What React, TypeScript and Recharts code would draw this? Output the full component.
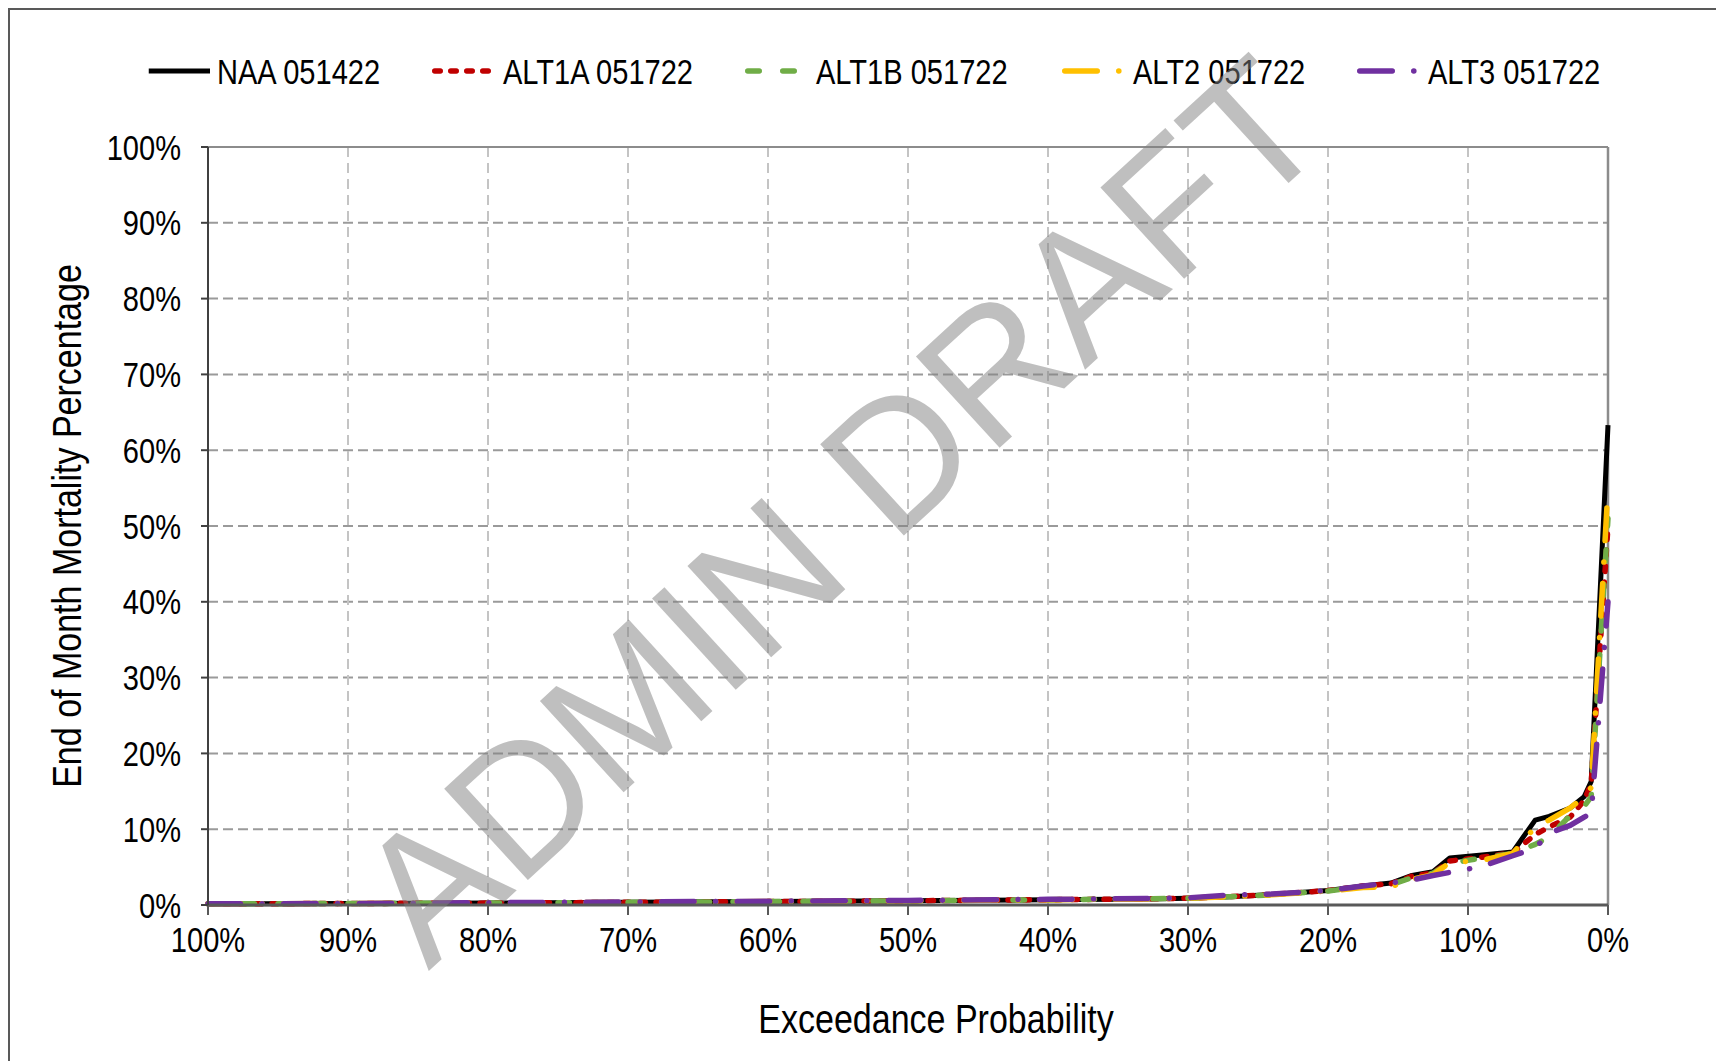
import { LineChart, Line, XAxis, YAxis, CartesianGrid, ReferenceLine } from 'recharts';

// Exceedance probability (%) for each plotted point, left (100%) to right (0%).
const EXCEEDANCE = [100, 90, 80, 70, 60, 50, 40, 33, 30, 27, 24, 20, 17.5, 15.5, 14, 12.5, 11.3, 9, 6.8, 5.2, 4.2, 2.7, 1.7, 1.2, 0];

// End of month mortality (%) per scenario.
const NAA_051422 = [0.15, 0.2, 0.25, 0.35, 0.45, 0.55, 0.7, 0.8, 0.9, 1.1, 1.4, 1.9, 2.5, 2.9, 3.9, 4.4, 6.2, 6.6, 7.0, 11.2, 11.7, 12.8, 14.3, 16.3, 63.3];
const ALT1A_051722 = [0.15, 0.2, 0.25, 0.35, 0.45, 0.55, 0.7, 0.8, 0.9, 1.1, 1.4, 1.9, 2.5, 2.8, 3.8, 4.2, 5.8, 6.3, 6.9, 9.3, 10.3, 11.6, 13.8, 16.0, 50.0];
const ALT1B_051722 = [0.15, 0.2, 0.25, 0.35, 0.45, 0.55, 0.7, 0.8, 0.9, 1.1, 1.35, 1.85, 2.4, 2.7, 3.6, 4.2, 5.5, 6.2, 6.8, 8.0, 9.0, 11.8, 13.0, 14.3, 51.0];
const ALT2_051722 = [0.15, 0.2, 0.25, 0.35, 0.45, 0.55, 0.7, 0.8, 0.9, 1.1, 1.35, 1.85, 2.3, 2.4, 3.4, 4.0, 5.6, 5.9, 6.8, 10.3, 11.2, 12.8, 14.3, 15.5, 55.0];
const ALT3_051722 = [0.15, 0.2, 0.3, 0.4, 0.5, 0.6, 0.75, 0.85, 0.95, 1.3, 1.45, 1.9, 2.5, 2.9, 3.3, 3.9, 4.3, 5.1, 6.5, 7.5, 9.5, 10.5, 11.6, 12.1, 40.0];

const X_TICKS = [100, 90, 80, 70, 60, 50, 40, 30, 20, 10, 0];
const Y_TICKS = [0, 10, 20, 30, 40, 50, 60, 70, 80, 90, 100];

const X_TITLE = 'Exceedance Probability';
const Y_TITLE = 'End of Month Mortality Percentage';
const WATERMARK = 'ADMIN DRAFT';

const FONT = "'Liberation Sans', Arial, sans-serif";
/** Source text is a narrow face; squeeze Arial-metric glyphs horizontally. */
const NARROW = 0.83;
const LINE_W = 5.5;

const SERIES = [
  { key: 'naa', name: 'NAA 051422', values: NAA_051422, color: '#000000', dash: undefined, cap: 'butt', width: 5 },
  { key: 'alt1a', name: 'ALT1A 051722', values: ALT1A_051722, color: '#C00000', dash: '5.5 10.5', cap: 'round', width: LINE_W },
  { key: 'alt1b', name: 'ALT1B 051722', values: ALT1B_051722, color: '#70AD47', dash: '11.5 23.5', cap: 'round', width: LINE_W },
  { key: 'alt2', name: 'ALT2 051722', values: ALT2_051722, color: '#FFC000', dash: '32.5 21.5 0.1 21.5', cap: 'round', width: LINE_W },
  { key: 'alt3', name: 'ALT3 051722', values: ALT3_051722, color: '#7030A0', dash: '32.5 21.5 0.1 21.5', cap: 'round', width: LINE_W },
] as const;

// legend sample line starts (px)
const LEGEND_X = [146, 432, 745, 1062, 1357];

const data = EXCEEDANCE.map((p, i) => {
  const row: Record<string, number> = { p };
  SERIES.forEach((s) => {
    row[s.key] = s.values[i];
  });
  return row;
});

function YTick({ x, y, payload }: any) {
  return (
    <g transform={`translate(${x},${y})`}>
      <text transform={`scale(${NARROW},1)`} textAnchor="end" dy="0.36em" fontSize={35} fontFamily={FONT} fill="#000">
        {payload.value}%
      </text>
    </g>
  );
}

function XTick({ x, y, payload }: any) {
  return (
    <g transform={`translate(${x},${y})`}>
      <text transform={`scale(${NARROW},1)`} textAnchor="middle" dy="0.71em" fontSize={35} fontFamily={FONT} fill="#000">
        {payload.value}%
      </text>
    </g>
  );
}

function Overlay() {
  return (
    <svg width={1716} height={1061} style={{ position: 'absolute', left: 0, top: 0, pointerEvents: 'none' }}>
      {SERIES.map((s, i) => {
        const x0 = LEGEND_X[i];
        return (
          <g key={s.key}>
            <line
              x1={x0 + 2.75}
              x2={x0 + 64}
              y1={71}
              y2={71}
              stroke={s.color}
              strokeWidth={s.width}
              strokeDasharray={s.dash}
              strokeLinecap={s.cap}
            />
            <g transform={`translate(${x0 + 71},71)`}>
              <text transform={`scale(${NARROW},1)`} dy="0.36em" fontSize={35} fontFamily={FONT} fill="#000">
                {s.name}
              </text>
            </g>
          </g>
        );
      })}
      <g transform="translate(936,1018)">
        <text transform={`scale(${NARROW},1)`} textAnchor="middle" dy="0.36em" fontSize={41} fontFamily={FONT} fill="#000">
          {X_TITLE}
        </text>
      </g>
      <g transform="translate(66,526) rotate(-90)">
        <text transform={`scale(${NARROW},1)`} textAnchor="middle" dy="0.36em" fontSize={41} fontFamily={FONT} fill="#000">
          {Y_TITLE}
        </text>
      </g>
    </svg>
  );
}

export default function App() {
  return (
    <div style={{ position: 'fixed', inset: 0, overflow: 'hidden', background: '#fff' }}>
      <div
        style={{
          position: 'absolute',
          left: 8,
          top: 8,
          width: 1760,
          height: 1100,
          border: '2px solid #595959',
        }}
      />
      <div style={{ position: 'absolute', left: 0, top: 0 }}>
        <LineChart width={1716} height={1061} data={data} margin={{ top: 147, right: 108, bottom: 126, left: 0 }}>
          <CartesianGrid horizontal vertical={false} stroke="#9a9a9a" strokeWidth={2} strokeDasharray="10 5" />
          <CartesianGrid horizontal={false} vertical stroke="#c4c4c4" strokeWidth={2} strokeDasharray="10 6" />
          <XAxis
            dataKey="p"
            type="number"
            domain={[0, 100]}
            reversed
            ticks={X_TICKS}
            interval={0}
            height={30}
            tick={<XTick />}
            tickSize={10}
            tickMargin={12}
            axisLine={{ stroke: '#595959', strokeWidth: 3 }}
            tickLine={{ stroke: '#595959', strokeWidth: 2 }}
          />
          <YAxis
            type="number"
            domain={[0, 100]}
            ticks={Y_TICKS}
            interval={0}
            width={208}
            tick={<YTick />}
            tickSize={7}
            tickMargin={20}
            axisLine={{ stroke: '#404040', strokeWidth: 2 }}
            tickLine={{ stroke: '#404040', strokeWidth: 2 }}
          />
          <ReferenceLine y={100} stroke="#8c8c8c" strokeWidth={2} />
          <ReferenceLine x={0} stroke="#8c8c8c" strokeWidth={2.5} />
          {SERIES.map((s) => (
            <Line
              key={s.key}
              dataKey={s.key}
              name={s.name}
              type="linear"
              stroke={s.color}
              strokeWidth={s.width}
              strokeDasharray={s.dash}
              strokeLinecap={s.cap}
              strokeLinejoin="round"
              dot={false}
              activeDot={false}
              isAnimationActive={false}
            />
          ))}
        </LineChart>
      </div>
      <Overlay />
      <div
        style={{
          position: 'absolute',
          left: 840,
          top: 510,
          transform: 'translate(-50%, -50%) rotate(-42.5deg)',
          fontFamily: FONT,
          fontSize: 180,
          lineHeight: 1,
          whiteSpace: 'nowrap',
          color: 'rgba(128,128,128,0.5)',
          pointerEvents: 'none',
        }}
      >
        {WATERMARK}
      </div>
    </div>
  );
}
